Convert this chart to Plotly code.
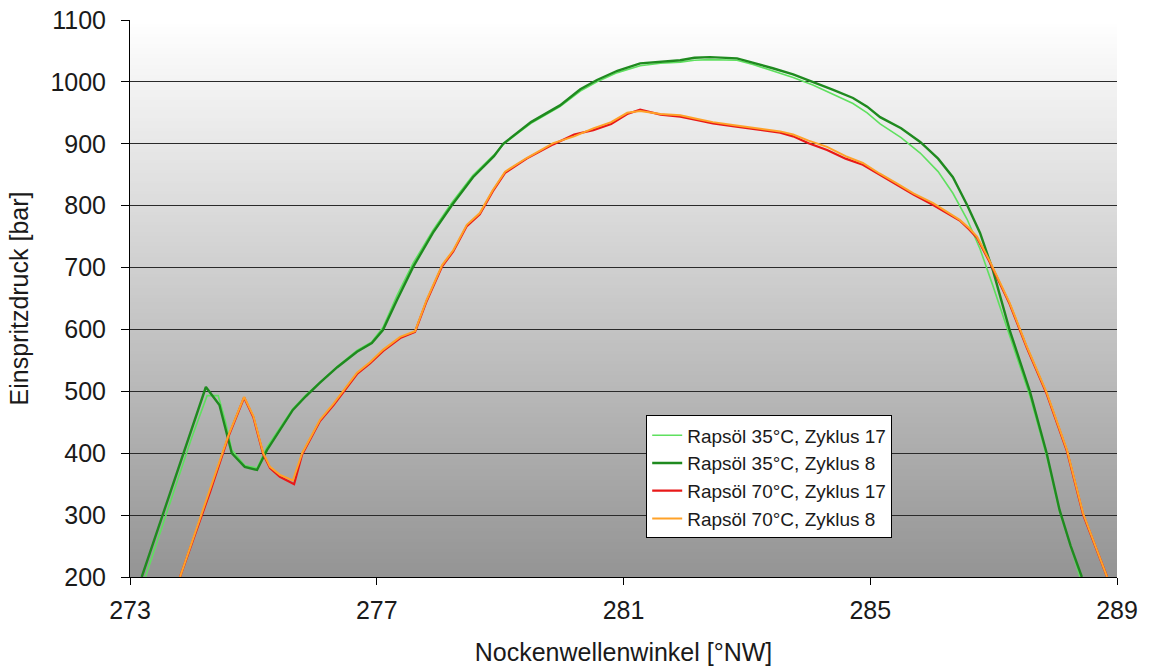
import plotly.graph_objects as go

# Nockenwellenwinkel [°NW] and Einspritzdruck [bar] per measurement
x_35_z17 = [273.25, 273.5, 273.8, 274.0, 274.25, 274.43, 274.55, 274.65, 274.86, 275.06, 275.22,
            275.45, 275.64, 275.85, 276.08, 276.36, 276.68, 276.92, 277.10, 277.33, 277.59,
            277.91, 278.22, 278.56, 278.9, 279.05, 279.3, 279.5, 279.97, 280.3, 280.57, 280.9,
            281.27, 281.6, 281.92, 282.15, 282.40, 282.84, 283.1, 283.42, 283.75, 284.07, 284.4,
            284.72, 284.95, 285.16, 285.5, 285.81, 286.1, 286.34, 286.57, 286.78, 286.99, 287.26,
            287.59, 287.86, 288.07, 288.25, 288.40]
y_35_z17 = [200, 275, 365, 425, 493, 493, 450, 405, 380, 376, 410,
            445, 472, 494, 515, 540, 566, 580, 603, 655, 707,
            760, 805, 849, 882, 899, 918, 933, 960, 985, 1000, 1015,
            1026, 1030, 1032, 1035, 1036, 1035, 1028, 1018, 1007, 995, 980,
            965, 950, 932, 910, 885, 855, 820, 778, 730, 670, 590,
            492, 395, 305, 250, 200]

x_35_z8 = [273.19, 273.5, 273.8, 274.0, 274.23, 274.45, 274.65, 274.86, 275.06, 275.22,
           275.45, 275.64, 275.85, 276.08, 276.36, 276.68, 276.92, 277.10, 277.33, 277.59,
           277.91, 278.22, 278.56, 278.9, 279.05, 279.3, 279.5, 279.97, 280.3, 280.57, 280.9,
           281.27, 281.6, 281.92, 282.15, 282.40, 282.84, 283.1, 283.42, 283.75, 284.07, 284.4,
           284.72, 284.95, 285.16, 285.5, 285.81, 286.1, 286.34, 286.57, 286.78, 286.99, 287.26,
           287.59, 287.86, 288.07, 288.25, 288.43]
y_35_z8 = [200, 291, 380, 439, 507, 478, 400, 378, 373, 405,
           440, 470, 492, 514, 539, 564, 578, 599, 648, 701,
           756, 801, 846, 880, 900, 920, 935, 962, 988, 1003, 1018,
           1030, 1033, 1035, 1039, 1040, 1038, 1031, 1022, 1012, 1000, 987,
           974, 960, 943, 925, 903, 876, 846, 801, 756, 695, 599,
           499, 400, 308, 250, 200]

x_70_z17 = [273.81, 274.0, 274.3, 274.6, 274.85, 275.0, 275.16, 275.27, 275.43, 275.66, 275.79,
            276.08, 276.3, 276.49, 276.68, 276.89, 277.10, 277.38, 277.62, 277.81, 278.06,
            278.24, 278.46, 278.67, 278.88, 279.08, 279.43, 279.86, 280.2, 280.51, 280.8, 281.06,
            281.27, 281.6, 281.92, 282.2, 282.45, 282.8, 283.21, 283.54, 283.75, 284.0, 284.30,
            284.6, 284.88, 285.15, 285.43, 285.7, 286.02, 286.25, 286.45, 286.6, 286.73, 286.94,
            287.26, 287.54, 287.86, 288.19, 288.45, 288.84]
y_70_z17 = [200, 253, 338, 428, 490, 458, 398, 376, 362, 350, 398,
            452, 478, 503, 528, 545, 565, 586, 596, 646, 702,
            726, 767, 786, 823, 853, 876, 899, 915, 922, 932, 948,
            955, 947, 944, 938, 933, 928, 922, 918, 912, 901, 890,
            876, 866, 850, 834, 818, 801, 788, 776, 762, 748, 708,
            641, 570, 496, 403, 301, 200]

x_70_z8 = [273.81, 274.0, 274.3, 274.6, 274.85, 275.0, 275.16, 275.27, 275.43, 275.64, 275.79,
           276.08, 276.3, 276.49, 276.68, 276.89, 277.10, 277.38, 277.62, 277.81, 278.06,
           278.24, 278.46, 278.67, 278.88, 279.08, 279.43, 279.86, 280.2, 280.51, 280.8, 281.06,
           281.27, 281.6, 281.92, 282.2, 282.45, 282.8, 283.21, 283.54, 283.75, 284.0, 284.30,
           284.6, 284.88, 285.15, 285.43, 285.7, 286.02, 286.25, 286.45, 286.6, 286.73, 286.94,
           287.26, 287.54, 287.86, 288.19, 288.45, 288.84]
y_70_z8 = [200, 255, 340, 430, 491, 460, 400, 378, 365, 356, 400,
           454, 480, 506, 530, 547, 567, 588, 597, 648, 704,
           728, 769, 788, 825, 855, 877, 901, 912, 925, 935, 950,
           953, 948, 946, 940, 935, 930, 925, 920, 915, 905, 895,
           880, 869, 852, 836, 820, 804, 790, 777, 764, 750, 710,
           643, 572, 498, 405, 303, 200]

series_names = ["Rapsöl 35°C, Zyklus 17", "Rapsöl 35°C, Zyklus 8",
                "Rapsöl 70°C, Zyklus 17", "Rapsöl 70°C, Zyklus 8"]
x_ticks = [273, 277, 281, 285, 289]
y_ticks = [200, 300, 400, 500, 600, 700, 800, 900, 1000, 1100]

FONT = "Liberation Sans, Arial, sans-serif"
TXT = "#1a1a1a"

fig = go.Figure()
fig.add_trace(go.Scatter(x=x_35_z17, y=y_35_z17, mode="lines", name=series_names[0],
                         line=dict(color="#5fe05f", width=1.6)))
fig.add_trace(go.Scatter(x=x_35_z8, y=y_35_z8, mode="lines", name=series_names[1],
                         line=dict(color="#1f8a1f", width=2.4)))
fig.add_trace(go.Scatter(x=x_70_z17, y=y_70_z17, mode="lines", name=series_names[2],
                         line=dict(color="#e81818", width=2.2)))
fig.add_trace(go.Scatter(x=x_70_z8, y=y_70_z8, mode="lines", name=series_names[3],
                         line=dict(color="#ffa228", width=2.0)))

# vertical grey gradient behind the plot area (white at top, grey at bottom)
bands = 160
top_rgb = (255, 255, 255)
bot_rgb = (148, 148, 148)
shapes = []
for i in range(bands):
    f = (i + 0.5) / bands
    c = [round(bot_rgb[k] + (top_rgb[k] - bot_rgb[k]) * f) for k in range(3)]
    shapes.append(dict(type="rect", xref="paper", yref="paper", layer="below",
                       x0=0, x1=1, y0=i / bands, y1=(i + 1) / bands + 0.002,
                       fillcolor=f"rgb({c[0]},{c[1]},{c[2]})", line=dict(width=0)))

fig.update_layout(
    width=1168, height=666,
    margin=dict(l=130, r=51, t=20, b=89, autoexpand=False),
    paper_bgcolor="white",
    plot_bgcolor="rgba(0,0,0,0)",
    shapes=shapes,
    font=dict(family=FONT, color=TXT),
    showlegend=True,
    legend=dict(x=0.523, y=0.290, xanchor="left", yanchor="top",
                bgcolor="white", bordercolor="black", borderwidth=1,
                font=dict(size=19, family=FONT, color=TXT), itemwidth=30,
                tracegroupgap=0),
)
fig.update_xaxes(range=[273, 289], tickvals=x_ticks, ticktext=[str(v) for v in x_ticks],
                 showgrid=False, zeroline=False, showline=True, linecolor="black", linewidth=1,
                 ticks="outside", ticklen=7, tickcolor="black", ticklabelstandoff=4,
                 automargin=False,
                 tickfont=dict(size=25, family=FONT, color=TXT),
                 title=dict(text="Nockenwellenwinkel [°NW]", font=dict(size=25, family=FONT, color=TXT),
                            standoff=22))
fig.update_yaxes(range=[200, 1100], tickvals=y_ticks, ticktext=[str(v) for v in y_ticks],
                 showgrid=True, gridcolor="#2a2a2a", gridwidth=1, zeroline=False,
                 showline=True, linecolor="black", linewidth=1,
                 ticks="outside", ticklen=8, tickcolor="black", ticklabelstandoff=10,
                 automargin=False,
                 tickfont=dict(size=25, family=FONT, color=TXT),
                 title=dict(text="Einspritzdruck [bar]", font=dict(size=25, family=FONT, color=TXT),
                            standoff=14))

fig.write_html("out.html")
